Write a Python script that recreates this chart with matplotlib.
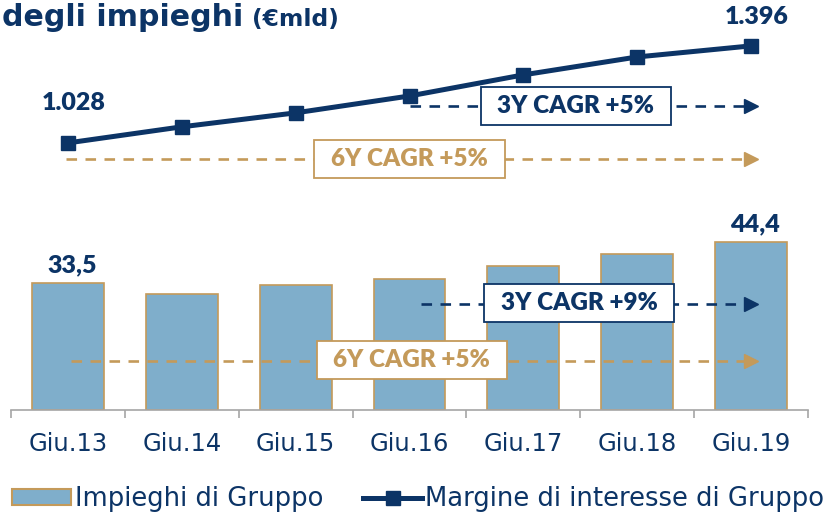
import matplotlib
matplotlib.use("Agg")
import matplotlib.pyplot as plt
import matplotlib.transforms as mtransforms
from matplotlib.lines import Line2D
from matplotlib.patches import Patch, Rectangle

# dati
periodi = ["Giu.13", "Giu.14", "Giu.15", "Giu.16", "Giu.17", "Giu.18", "Giu.19"]
impieghi = [33.5, 30.6, 32.9, 34.6, 38.1, 41.2, 44.4]
margine = [1028, 1089, 1142, 1206, 1286, 1354, 1396]
etichette_impieghi = ["33,5", "44,4"]
etichette_margine = ["1.028", "1.396"]
cagr_margine = ["3Y CAGR +5%", "6Y CAGR +5%"]
cagr_impieghi = ["3Y CAGR +9%", "6Y CAGR +5%"]
legenda = ["Impieghi di Gruppo", "Margine di interesse di Gruppo"]

NAVY = "#0C3466"
ORO = "#C49A5A"
AZZURRO = "#7FAECB"
GRIGIO = "#A6A6A6"

plt.rcParams['font.family'] = ['Lato', 'DejaVu Sans']

fig = plt.figure(figsize=(8.24, 5.12), dpi=100)
ax = fig.add_axes([11 / 824, 102 / 512, 797 / 824, 410 / 512])
x = list(range(len(periodi)))

ax.bar(x, impieghi, width=0.63, color=AZZURRO, edgecolor=ORO, linewidth=1.2, zorder=2)
ax.set_xlim(-0.5, 6.5)
ax.set_ylim(0, 108.2)
for s in ["top", "left", "right"]:
    ax.spines[s].set_visible(False)
ax.spines["bottom"].set_color(GRIGIO)
ax.spines["bottom"].set_linewidth(1.2)
ax.set_yticks([])
ax.set_xticks(x)
ax.set_xticklabels(periodi, family="DejaVu Sans", fontsize=17.5, color=NAVY)
ax.set_xticks([i - 0.5 for i in range(len(periodi) + 1)], minor=True)
ax.tick_params(axis="x", which="major", length=0, pad=16)
ax.tick_params(axis="x", which="minor", length=5.5, width=1.2, color=GRIGIO)

# etichette barre
for i, testo in zip([0, len(impieghi) - 1], etichette_impieghi):
    ax.annotate(testo, (i, impieghi[i]), xytext=(3, 12.5), textcoords="offset points",
                ha="center", va="center", fontsize=18, fontweight="heavy", color=NAVY)

# margine su asse secondario
ax2 = ax.twinx()
ax2.set_ylim(15, 1570)
ax2.axis("off")
ax2.plot(x, margine, color=NAVY, lw=3.6, marker="s", ms=10.5, zorder=4)
for i, testo, off in zip([0, len(margine) - 1], etichette_margine, [(4, 29), (4, 20.5)]):
    ax2.annotate(testo, (i, margine[i]), xytext=off, textcoords="offset points",
                 ha="center", va="center", fontsize=18, fontweight="heavy", color=NAVY)

blend = mtransforms.blended_transform_factory(ax2.transData, ax2.transAxes)
box_w, box_h = 190 / 113.83, 38 / 410


def freccia(x0, x1, y, colore):
    ax2.plot([x0, x1], [y, y], color=colore, lw=1.9, ls=(0, (4, 3.2)),
             transform=blend, zorder=3)
    ax2.plot([x1], [y], color=colore, marker=">", ms=10, lw=0,
             transform=blend, zorder=3)


def box(cx, cy, testo, colore):
    ax2.add_patch(Rectangle((cx - box_w / 2, cy - box_h / 2), box_w, box_h,
                            transform=blend, facecolor="white", edgecolor=colore,
                            lw=1.3, zorder=5))
    ax2.text(cx, cy, testo, transform=blend, ha="center", va="center",
             fontsize=17.5, fontweight="heavy", color=colore, zorder=6)


# CAGR margine
freccia(3.0, 6.0, 0.7415, NAVY)
box(4.46, 0.7415, cagr_margine[0], NAVY)
freccia(-0.02, 6.0, 0.612, ORO)
box(3.0, 0.612, cagr_margine[1], ORO)

# CAGR impieghi
freccia(3.1, 6.0, 0.2585, NAVY)
box(4.49, 0.26, cagr_impieghi[0], NAVY)
freccia(0.03, 6.0, 0.12, ORO)
box(3.02, 0.121, cagr_impieghi[1], ORO)

# titolo
fig.text(2 / 824, 1 - 26 / 512, "degli impieghi", family="DejaVu Sans", fontsize=21.6,
         fontweight="bold", color=NAVY, va="baseline", ha="left")
fig.text(252 / 824, 1 - 26 / 512, "(€mld)", family="DejaVu Sans", fontsize=16.8,
         fontweight="bold", color=NAVY, va="baseline", ha="left")

# legenda
handles = [Patch(facecolor=AZZURRO, edgecolor=ORO, lw=1.5),
           Line2D([], [], color=NAVY, lw=3.6, marker="s", ms=10.5)]
leg = fig.legend(handles, legenda, loc="center left", bbox_to_anchor=(12 / 824, 13 / 512),
                 ncol=2, frameon=False, prop={"family": "DejaVu Sans", "size": 18.6},
                 handlelength=2.3, handleheight=0.55, handletextpad=0.12,
                 columnspacing=1.55, borderaxespad=0, borderpad=0)
for t in leg.get_texts():
    t.set_color(NAVY)

fig.savefig("out.png", dpi=100)
